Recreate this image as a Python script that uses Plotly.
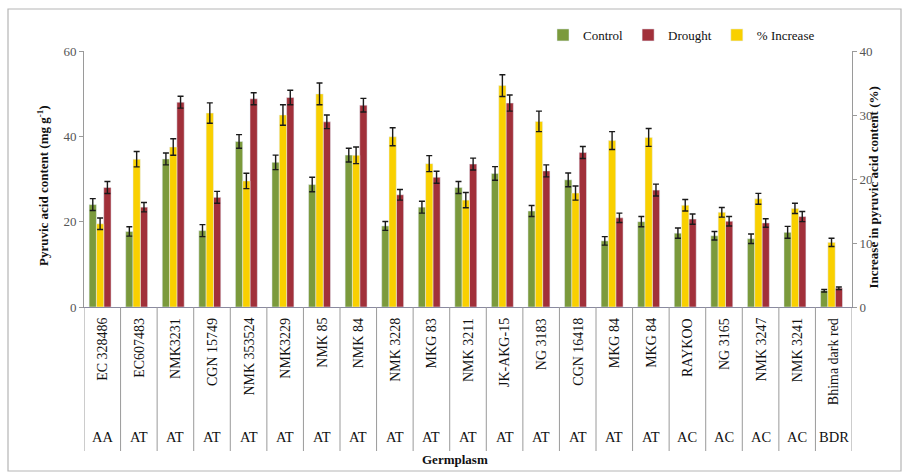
import plotly.graph_objects as go

# Germplasm accessions and their species groups
germplasm = ["EC 328486", "EC607483", "NMK3231", "CGN 15749", "NMK 353524", "NMK3229",
             "NMK 85", "NMK 84", "NMK 3228", "MKG 83", "NMK 3211", "JK-AKG-15",
             "NG 3183", "CGN 16418", "MKG 84", "MKG 84", "RAYKOO", "NG 3165",
             "NMK 3247", "NMK 3241", "Bhima dark red"]
groups = ["AA", "AT", "AT", "AT", "AT", "AT", "AT", "AT", "AT", "AT", "AT", "AT",
          "AT", "AT", "AT", "AT", "AC", "AC", "AC", "AC", "BDR"]

# Pyruvic acid content (mg g-1)
control = [24.0, 17.7, 34.7, 17.9, 38.8, 33.9, 28.7, 35.6, 19.0, 23.4, 28.0, 31.3,
           22.5, 29.8, 15.5, 20.0, 17.3, 16.7, 16.0, 17.5, 3.8]
control_err = [1.4, 1.1, 1.4, 1.4, 1.6, 1.7, 1.7, 1.6, 1.05, 1.4, 1.4, 1.6,
               1.3, 1.6, 1.0, 1.2, 1.2, 1.0, 1.1, 1.4, 0.3]
drought = [28.0, 23.4, 48.0, 25.7, 48.8, 49.1, 43.4, 47.3, 26.3, 30.4, 33.5, 47.8,
           31.9, 36.2, 20.9, 27.4, 20.6, 20.1, 19.7, 21.2, 4.4]
drought_err = [1.4, 1.1, 1.4, 1.4, 1.4, 1.7, 1.6, 1.6, 1.25, 1.4, 1.4, 1.9,
               1.4, 1.4, 1.1, 1.4, 1.2, 1.1, 1.0, 1.2, 0.3]
# Increase in pyruvic acid content (%)
increase = [13.0, 23.1, 25.0, 30.3, 19.7, 30.0, 33.3, 23.7, 26.6, 22.4, 16.7, 34.6,
            29.0, 17.8, 26.0, 26.5, 15.9, 14.8, 16.9, 15.4, 10.1]
increase_err = [0.9, 1.2, 1.3, 1.6, 1.2, 1.6, 1.7, 1.3, 1.4, 1.25, 1.2, 1.7,
                1.6, 1.1, 1.4, 1.4, 0.9, 0.75, 0.85, 0.8, 0.65]

GREEN = "#7b9a3c"
RED = "#a1303a"
YELLOW = "#f9d000"
SERIF = "Liberation Serif"

# plot area in pixels
W, H = 909, 475
L, R, T, B = 84, 852, 51, 307


def px_x(p):
    return (p - L) / (R - L)


def px_y(p):
    return (B - p) / (B - T)


xs = list(range(len(germplasm)))
bw = 0.2


def err(vals):
    return dict(type="data", array=vals, visible=True, color="#1a1a1a",
                thickness=1.4, width=3)


fig = go.Figure()
fig.add_trace(go.Bar(x=xs, y=control, name="Control", marker_color=GREEN,
                     width=bw, offset=-0.36, error_y=err(control_err)))
fig.add_trace(go.Bar(x=xs, y=drought, name="Drought", marker_color=RED,
                     width=bw, offset=0.04, error_y=err(drought_err)))
fig.add_trace(go.Bar(x=xs, y=increase, name="% Increase", marker_color=YELLOW,
                     width=bw, offset=-0.16, error_y=err(increase_err), yaxis="y2"))

shapes = []
annotations = []
# table lines below the axis
for i in range(len(germplasm) + 1):
    shapes.append(dict(type="line", xref="x", yref="paper", x0=i - 0.5, x1=i - 0.5,
                       y0=0, y1=px_y(451), line=dict(color="#9a9a9a", width=1)))
for i, (name, grp) in enumerate(zip(germplasm, groups)):
    annotations.append(dict(x=i, y=px_y(316), xref="x", yref="paper", text=name,
                            textangle=-90, showarrow=False, xanchor="center",
                            yanchor="top", font=dict(family=SERIF, size=14, color="#111")))
    annotations.append(dict(x=i, y=px_y(437), xref="x", yref="paper", text=grp,
                            showarrow=False, xanchor="center", yanchor="middle",
                            font=dict(family=SERIF, size=14.5, color="#111")))

annotations.append(dict(x=px_x(455), y=px_y(459), xref="paper", yref="paper",
                        text="<b>Germplasm</b>", showarrow=False, yanchor="middle",
                        font=dict(family=SERIF, size=13, color="#111")))
annotations.append(dict(x=px_x(33), y=px_y(186), xref="paper", yref="paper",
                        text="<b>Pyruvic acid content (mg g<sup>-1</sup>)</b>",
                        textangle=-90, showarrow=False,
                        font=dict(family=SERIF, size=13, color="#111")))
annotations.append(dict(x=px_x(882), y=px_y(188), xref="paper", yref="paper",
                        text="<b>Increase in pyruvic acid content (%)</b>",
                        textangle=-90, showarrow=False,
                        font=dict(family=SERIF, size=13, color="#111")))

# outer frame
shapes.append(dict(type="rect", xref="paper", yref="paper", x0=px_x(8), x1=px_x(901),
                   y0=px_y(471), y1=px_y(9), line=dict(color="#b5b5b5", width=1.2)))

fig.update_layout(
    width=W, height=H,
    margin=dict(l=L, r=W - R, t=T, b=H - B, pad=0),
    paper_bgcolor="white", plot_bgcolor="white",
    barmode="overlay",
    font=dict(family=SERIF, color="#444"),
    showlegend=True,
    legend=dict(orientation="h", x=px_x(543), y=px_y(20), xanchor="left", yanchor="top",
                font=dict(family=SERIF, size=13, color="#111"),
                itemwidth=30, bgcolor="rgba(0,0,0,0)", traceorder="normal"),
    xaxis=dict(range=[-0.5, len(germplasm) - 0.5], showticklabels=False, ticks="",
               showgrid=False, zeroline=False, showline=True, linecolor="#8a8aa0",
               linewidth=1),
    yaxis=dict(range=[0, 60], dtick=20, ticks="outside", ticklen=4, tickcolor="#9a9a9a",
               showgrid=False, zeroline=False, showline=True, linecolor="#9a9a9a",
               linewidth=1, tickfont=dict(family=SERIF, size=13, color="#555")),
    yaxis2=dict(range=[0, 40], dtick=10, overlaying="y", side="right", ticks="outside",
                ticklen=4, tickcolor="#9a9a9a", showgrid=False, zeroline=False,
                showline=True, linecolor="#9a9a9a", linewidth=1,
                tickfont=dict(family=SERIF, size=13, color="#555")),
    shapes=shapes,
    annotations=annotations,
)

fig.write_html("out.html")
